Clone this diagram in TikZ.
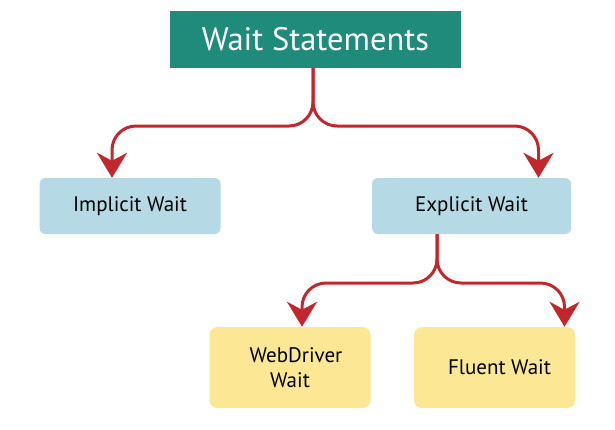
\documentclass[tikz,border=0pt]{standalone}
\usepackage{fontspec}
\setmainfont{PT Sans}
\usetikzlibrary{arrows.meta}
\definecolor{headgreen}{HTML}{1E8B7B}
\definecolor{waitblue}{HTML}{B5DAE6}
\definecolor{waityellow}{HTML}{FCE794}
\definecolor{linkred}{HTML}{C1272D}
\tikzset{
  headbox/.style={fill=headgreen, text=white, minimum width=291pt, minimum height=57pt, font=\fontsize{32.5}{36}\selectfont},
  bluebox/.style={fill=waitblue, rounded corners=6pt, minimum height=56pt, font=\fontsize{21}{24}\selectfont},
  yellowbox/.style={fill=waityellow, rounded corners=8pt, minimum width=161pt, minimum height=81pt, align=center, font=\fontsize{21}{25}\selectfont},
  link/.style={draw=linkred, line width=3pt, rounded corners=24pt, -{Stealth[length=25pt,width=30pt,inset=8pt]}},
}
\begin{document}
\begin{tikzpicture}[x=1pt,y=-1pt]
	\useasboundingbox (0,0) rectangle (615,429);
	\node[headbox] (wait) at (315.5, 39.5) {Wait Statements};
	\node[bluebox, minimum width=181pt] (implicit) at (130, 206) {Implicit Wait};
	\node[bluebox, minimum width=199pt] (explicit) at (471.5, 206) {Explicit Wait};
	\node[yellowbox] (webdriver) at (290, 367.5) {\hspace{12pt}WebDriver\\Wait};
	\node[yellowbox] (fluent) at (494.5, 367.5) {\hspace{10pt}Fluent Wait};
	\coordinate (split) at (313, 126);
	\coordinate (subsplit) at (437, 283);
	% branches from the top box
	\draw[link] (wait.south -| split) -- (split) -| ([xshift=-18pt]implicit.north);
	\draw[link] (wait.south -| split) -- (split) -| ([xshift=67pt]explicit.north);
	% branches from explicit wait
	\draw[link] (explicit.south -| subsplit) -- (subsplit) -| ([xshift=12pt]webdriver.north);
	\draw[link] (explicit.south -| subsplit) -- (subsplit) -| ([xshift=70pt]fluent.north);
\end{tikzpicture}
\end{document}
